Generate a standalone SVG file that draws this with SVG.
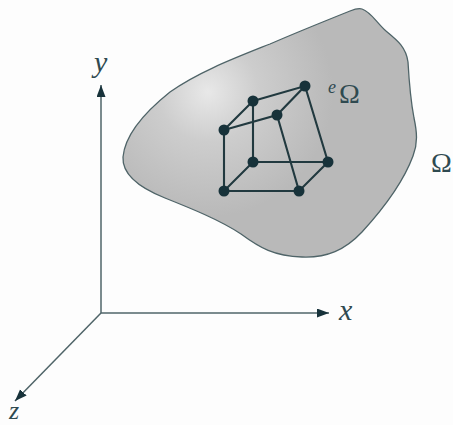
<svg xmlns="http://www.w3.org/2000/svg" width="453" height="425" viewBox="0 0 453 425">
<style>
.ax{fill:none;stroke:#4f6468;stroke-width:1.5}
.ed{fill:none;stroke:#21393f;stroke-width:2.1}
.nd{fill:#17323a}
.t{font-family:"Liberation Serif",serif;fill:#2f4a50}
.i{font-style:italic;font-size:30px}
</style>
<defs>
<radialGradient id="g" gradientUnits="userSpaceOnUse" cx="208" cy="92" r="125">
<stop offset="0" stop-color="#e8e8e8"/><stop offset="0.4" stop-color="#cdcdcd"/><stop offset="1" stop-color="#b9b9b9"/>
</radialGradient>
<marker id="a" markerUnits="userSpaceOnUse" markerWidth="13" markerHeight="10" refX="12" refY="4.5" orient="auto"><path d="M0 0L12 4.5L0 9z" fill="#17323a"/></marker>
</defs>
<rect width="453" height="425" fill="#fdfdfd"/>
<g id="domain"><path d="M362 9C371 12 376 22 386 31C397 40 406 47 408 62C409 80 410 97 414 118C417 132 418 143 413 156C403 183 384 208 362 232C345 250 327 258 302 257C274 256 260 248 241 234C220 220 190 208 165 198C140 188 122 175 123 157C125 135 145 112 170 92C198 72 235 58 270 44C300 31 330 19 350 11C355 9 359 8 362 9Z" fill="url(#g)" stroke="#4f6468" stroke-width="1.3"/></g>
<g id="connectors">
<path class="ax" d="M101 313V85" marker-end="url(#a)"/>
<path class="ax" d="M101 313H329" marker-end="url(#a)"/>
<path class="ax" d="M101 313L15 401" marker-end="url(#a)"/>
<path class="ed" d="M224 191H299L328 162H253L224 191V130L253 101V162M224 130L277 115L305 86L253 101M277 115L299 191M305 86L328 162"/>
</g>
<g id="n1"><circle class="nd" cx="305" cy="86" r="5.5"/></g>
<g id="n2"><circle class="nd" cx="253" cy="101" r="5.5"/></g>
<g id="n3"><circle class="nd" cx="277" cy="115" r="5.5"/></g>
<g id="n4"><circle class="nd" cx="224" cy="130" r="5.5"/></g>
<g id="n5"><circle class="nd" cx="253" cy="162" r="5.5"/></g>
<g id="n6"><circle class="nd" cx="328" cy="162" r="5.5"/></g>
<g id="n7"><circle class="nd" cx="224" cy="191" r="5.5"/></g>
<g id="n8"><circle class="nd" cx="299" cy="191" r="5.5"/></g>
<g id="labels">
<text class="t i" x="94" y="72">y</text>
<text class="t i" x="339" y="320">x</text>
<text class="t" x="9" y="419" font-style="italic" font-size="26">z</text>
<text class="t" x="328" y="93" font-style="italic" font-size="18">e</text>
<text class="t" x="339" y="103" font-size="28">Ω</text>
<text class="t" x="431" y="172" font-size="28">Ω</text>
</g>
</svg>
